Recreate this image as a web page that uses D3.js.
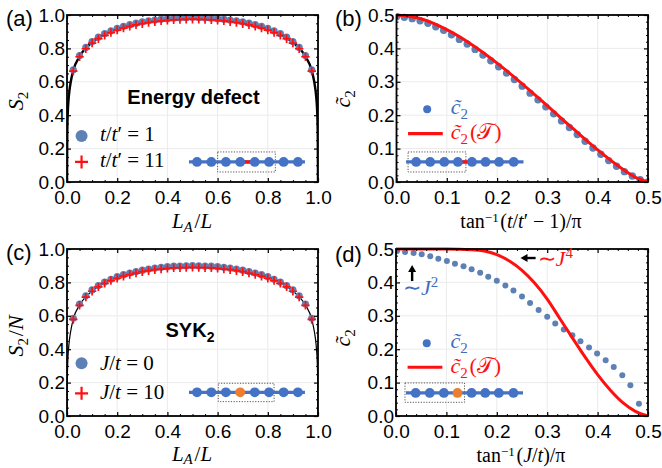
<!DOCTYPE html>
<html>
<head>
<meta charset="utf-8">
<script src="https://cdn.jsdelivr.net/npm/d3@7"></script>
<style>
body { margin: 0; background: #fff; }
svg text { font-family: "Liberation Sans", Arial, sans-serif; }
svg text.m { font-family: "Liberation Serif", "Times New Roman", serif; }
</style>
</head>
<body>
<svg id="fig" width="662" height="468"></svg>
<script>
// ---- data: panel (a), energy defect
const xA = [0.025,0.05,0.075,0.1,0.125,0.15,0.175,0.2,0.225,0.25,0.275,0.3,0.325,0.35,0.375,0.4,0.425,0.45,0.475,0.5,
            0.525,0.55,0.575,0.6,0.625,0.65,0.675,0.7,0.725,0.75,0.775,0.8,0.825,0.85,0.875,0.9,0.925,0.95,0.975];
const blueA = [0.672,0.757,0.806,0.841,0.867,0.888,0.905,0.920,0.932,0.942,0.951,0.959,0.965,0.970,0.975,0.978,0.981,0.983,0.984,0.985,
               0.984,0.983,0.981,0.978,0.975,0.970,0.965,0.959,0.951,0.942,0.932,0.920,0.905,0.888,0.867,0.841,0.806,0.757,0.672];
const redA = [0.664,0.750,0.798,0.832,0.858,0.878,0.895,0.910,0.922,0.932,0.941,0.948,0.955,0.960,0.965,0.968,0.971,0.973,0.974,0.975,
              0.974,0.973,0.971,0.968,0.965,0.960,0.955,0.948,0.941,0.932,0.922,0.910,0.895,0.878,0.858,0.832,0.798,0.750,0.664];
const curveX = [0,0.001,0.003,0.006,0.01,0.015,0.025,0.05,0.075,0.1,0.15,0.2,0.25,0.3,0.35,0.4,0.45,0.5,
                0.55,0.6,0.65,0.7,0.75,0.8,0.85,0.9,0.925,0.95,0.975,0.985,0.99,0.994,0.997,0.999,1];
const curveA = [0,0.28,0.41,0.49,0.55,0.60,0.668,0.752,0.802,0.836,0.883,0.915,0.937,0.952,0.963,0.971,0.976,0.978,
                0.976,0.971,0.963,0.952,0.937,0.915,0.883,0.836,0.802,0.752,0.668,0.60,0.55,0.49,0.41,0.28,0];

// ---- panel (b)
const xB = [0,0.0156,0.0313,0.0469,0.0625,0.0781,0.0938,0.1094,0.125,0.1406,0.1563,0.1719,0.1875,0.2031,0.2188,0.2344,0.25,
            0.2656,0.2813,0.2969,0.3125,0.3281,0.3438,0.3594,0.375,0.3906,0.4063,0.4219,0.4375,0.4531,0.4688,0.4844,0.5];
const blueB = [0.495,0.493,0.489,0.483,0.475,0.465,0.454,0.441,0.427,0.413,0.397,0.380,0.363,0.345,0.326,0.307,0.287,
               0.266,0.246,0.225,0.204,0.183,0.163,0.142,0.122,0.102,0.083,0.064,0.047,0.031,0.018,0.007,0.0];
const redBx = [0,0.05,0.1,0.15,0.2,0.25,0.3,0.35,0.4,0.45,0.475,0.5];
const redBy = [0.5,0.488,0.456,0.411,0.356,0.294,0.228,0.161,0.096,0.038,0.014,0.0];

// ---- panel (c), SYK2
const blueC = [0.585,0.670,0.720,0.755,0.781,0.802,0.819,0.834,0.846,0.856,0.865,0.873,0.880,0.886,0.890,0.894,0.897,0.898,0.899,0.900,
               0.899,0.898,0.897,0.894,0.890,0.886,0.880,0.873,0.865,0.856,0.846,0.834,0.819,0.802,0.781,0.755,0.720,0.670,0.585];
const redC = [0.578,0.663,0.712,0.747,0.773,0.794,0.811,0.825,0.837,0.847,0.856,0.864,0.870,0.876,0.880,0.884,0.887,0.888,0.889,0.890,
              0.889,0.888,0.887,0.884,0.880,0.876,0.870,0.864,0.856,0.847,0.837,0.825,0.811,0.794,0.773,0.747,0.712,0.663,0.578];
const curveC = [0,0.19,0.32,0.40,0.46,0.51,0.58,0.665,0.714,0.749,0.796,0.828,0.850,0.866,0.878,0.886,0.891,0.893,
                0.891,0.886,0.878,0.866,0.850,0.828,0.796,0.749,0.714,0.665,0.58,0.51,0.46,0.40,0.32,0.19,0];

// ---- panel (d)
const xD = [0.002,0.018,0.035,0.051,0.068,0.084,0.101,0.117,0.134,0.15,0.167,0.183,0.2,0.217,0.233,
            0.25,0.266,0.283,0.3,0.316,0.333,0.35,0.366,0.383,0.399,0.416,0.432,0.449,0.465,0.482];
const blueD = [0.494,0.491,0.488,0.484,0.478,0.471,0.464,0.456,0.448,0.439,0.429,0.417,0.405,0.391,0.376,
               0.358,0.338,0.317,0.297,0.277,0.259,0.242,0.224,0.205,0.187,0.167,0.147,0.122,0.092,0.037];
const redDx = [0,0.05,0.1,0.15,0.175,0.2,0.225,0.25,0.275,0.3,0.325,0.35,0.375,0.4,0.425,0.45,0.475,0.5];
const redDy = [0.5,0.5,0.5,0.498,0.494,0.483,0.464,0.436,0.398,0.35,0.292,0.234,0.177,0.124,0.078,0.040,0.014,0.0];

// ticks
const major1 = [0,0.2,0.4,0.6,0.8,1.0];
const minor1 = [0.05,0.1,0.15,0.25,0.3,0.35,0.45,0.5,0.55,0.65,0.7,0.75,0.85,0.9,0.95];
const major5 = [0,0.1,0.2,0.3,0.4,0.5];
const minor5 = [0.02,0.04,0.06,0.08,0.12,0.14,0.16,0.18,0.22,0.24,0.26,0.28,0.32,0.34,0.36,0.38,0.42,0.44,0.46,0.48];

// inset chain site positions
const chainLong = [0.518,0.575,0.633,0.69,0.748,0.805,0.863,0.92];
const chainShort = [0.039,0.067,0.095,0.122,0.150,0.177,0.204,0.233];

const BLUE = "#5e81b5", RED = "#ff1010", CHAIN = "#4472c4", ORANGE = "#ed7d31", TBLUE = "#3f6cbf";

const svg = d3.select("#fig");

function makePanel(box, dom, major, minor, id) {
    const x = d3.scaleLinear().domain(dom).range([box.l, box.r]);
    const y = d3.scaleLinear().domain(dom).range([box.b, box.t]);
    const g = svg.append("g");
    const inner = major.slice(1, -1);
    g.append("g").selectAll("line").data(inner).join("line")
        .attr("x1", d => x(d)).attr("x2", d => x(d))
        .attr("y1", box.t).attr("y2", box.b)
        .attr("stroke", "#ebebeb");
    g.append("g").selectAll("line").data(inner).join("line")
        .attr("y1", d => y(d)).attr("y2", d => y(d))
        .attr("x1", box.l).attr("x2", box.r)
        .attr("stroke", "#ebebeb");
    svg.append("clipPath").attr("id", id).append("rect")
        .attr("x", box.l).attr("y", box.t - 2)
        .attr("width", box.r - box.l).attr("height", box.b - box.t + 2);
    const plot = g.append("g").attr("clip-path", `url(#${id})`);
    return { box, g, plot, x, y, major, minor };
}

function drawFrame(p) {
    const { box, g, x, y, major, minor } = p;
    const fmt = d3.format(".1f");
    const sides = [
        [() => d3.axisBottom(x), `translate(0,${box.b})`, true],
        [() => d3.axisTop(x), `translate(0,${box.t})`, false],
        [() => d3.axisLeft(y), `translate(${box.l},0)`, true],
        [() => d3.axisRight(y), `translate(${box.r},0)`, false]
    ];
    sides.forEach(([mk, tr, labelled], i) => {
        g.append("g").attr("transform", tr)
            .call(mk().tickValues(minor).tickFormat("").tickSizeInner(-2).tickSizeOuter(0))
            .call(a => a.select(".domain").remove());
        g.append("g").attr("transform", tr)
            .call(mk().tickValues(major).tickFormat(labelled ? fmt : "")
                .tickSizeInner(-4).tickSizeOuter(0).tickPadding(i === 0 ? 9 : 2))
            .attr("font-size", 19).attr("font-family", "Liberation Sans, Arial, sans-serif")
            .call(a => a.select(".domain").remove())
            .call(a => a.selectAll("line").attr("stroke-width", 1.2));
    });
    g.append("rect")
        .attr("x", box.l).attr("y", box.t)
        .attr("width", box.r - box.l).attr("height", box.b - box.t)
        .attr("fill", "none").attr("stroke", "#000").attr("stroke-width", 1.8);
}

function dots(p, xs, ys, r, color) {
    p.plot.append("g").selectAll("circle").data(xs).join("circle")
        .attr("cx", d => p.x(d)).attr("cy", (d, i) => p.y(ys[i]))
        .attr("r", r).attr("fill", color);
}

function crosses(p, xs, ys, s) {
    p.plot.append("g").selectAll("path").data(xs).join("path")
        .attr("d", (d, i) => {
            const cx = p.x(d), cy = p.y(ys[i]);
            return `M${cx - s},${cy}H${cx + s}M${cx},${cy - s}V${cy + s}`;
        })
        .attr("stroke", RED).attr("stroke-width", 1.7).attr("fill", "none");
}

function curve(p, xs, ys, color, w) {
    const line = d3.line().x(d => p.x(d[0])).y(d => p.y(d[1])).curve(d3.curveMonotoneX);
    p.plot.append("path")
        .datum(xs.map((d, i) => [d, ys[i]]))
        .attr("d", line).attr("fill", "none")
        .attr("stroke", color).attr("stroke-width", w);
}

function chain(p, xs, yv, lineX, boxX, boxY, special) {
    const { g, x, y } = p;
    g.append("rect")
        .attr("x", x(boxX[0])).attr("y", y(boxY[1]))
        .attr("width", x(boxX[1]) - x(boxX[0])).attr("height", y(boxY[0]) - y(boxY[1]))
        .attr("fill", "none").attr("stroke", "#444").attr("stroke-width", 0.9)
        .attr("stroke-dasharray", "1.2,1.5");
    g.append("line")
        .attr("x1", x(lineX[0])).attr("x2", x(lineX[1]))
        .attr("y1", y(yv)).attr("y2", y(yv))
        .attr("stroke", CHAIN).attr("stroke-width", 3.2);
    if (special === "bond") {
        g.append("line")
            .attr("x1", x(xs[3])).attr("x2", x(xs[4]))
            .attr("y1", y(yv)).attr("y2", y(yv))
            .attr("stroke", RED).attr("stroke-width", 3.4);
    }
    g.append("g").selectAll("circle").data(xs).join("circle")
        .attr("cx", d => x(d)).attr("cy", y(yv)).attr("r", 4.9)
        .attr("fill", (d, i) => (special === "site" && i === 3) ? ORANGE : CHAIN);
}

function mtext(parent, x, y, html, size, opts = {}) {
    const t = parent.append("text").attr("class", "m")
        .attr("font-size", size).attr("fill", opts.fill || "#000")
        .attr("text-anchor", opts.anchor || "start")
        .html(html);
    if (opts.rotate) t.attr("transform", `translate(${x},${y}) rotate(-90)`);
    else t.attr("x", x).attr("y", y);
    return t;
}

const it = s => `<tspan font-style="italic">${s}</tspan>`;
const sub = (s, sz, dy) => `<tspan font-size="${sz}" dy="${dy}">${s}</tspan><tspan dy="${-dy}">\u200a</tspan>`;
const sup = (s, sz, dy) => `<tspan font-size="${sz}" dy="${-dy}">${s}</tspan><tspan dy="${dy}">\u200a</tspan>`;
const c2 = sz => it("c\u0303") + sub("2", sz, 5);

function panelLabel(x, y, s) {
    svg.append("text").attr("x", x).attr("y", y).attr("font-size", 22).text(s);
}

// ===== (a)
const pA = makePanel({ l: 67, r: 318, t: 15, b: 182 }, [0, 1], major1, minor1, "clipA");
curve(pA, curveX, curveA, "#000", 2.4);
dots(pA, xA, blueA, 3.6, BLUE);
crosses(pA, xA, redA, 4.2);
drawFrame(pA);
chain(pA, chainLong, 0.12, [0.486, 0.948], [0.6, 0.83], [0.06, 0.18], "bond");
pA.g.append("circle").attr("cx", pA.x(0.058)).attr("cy", pA.y(0.275)).attr("r", 6).attr("fill", BLUE);
pA.g.append("path")
    .attr("d", `M${pA.x(0.058) - 6.5},${pA.y(0.12)}h13M${pA.x(0.058)},${pA.y(0.12) - 6.5}v13`)
    .attr("stroke", RED).attr("stroke-width", 2.2);
mtext(pA.g, pA.x(0.131), 141, it("t") + "/" + it("t") + "\u2032 = 1", 21);
mtext(pA.g, pA.x(0.131), 167, it("t") + "/" + it("t") + "\u2032 = 11", 21);
pA.g.append("text").attr("x", 193.5).attr("y", 104).attr("text-anchor", "middle")
    .attr("font-size", 20).attr("font-weight", "bold").text("Energy defect");
mtext(svg, 23, 100, it("S") + sub("2", 15, 5), 22, { rotate: true, anchor: "middle" });
mtext(svg, 192, 228, it("L") + sub(it("A"), 15, 3.5) + "/" + it("L"), 21, { anchor: "middle" });
panelLabel(6, 26, "(a)");

// ===== (b)
const pB = makePanel({ l: 396.5, r: 648, t: 15, b: 182 }, [0, 0.5], major5, minor5, "clipB");
dots(pB, xB, blueB, 3.7, BLUE);
curve(pB, redBx, redBy, RED, 3);
drawFrame(pB);
chain(pB, chainShort, 0.06, [0.019, 0.2525], [0.023, 0.138], [0.03, 0.09], "bond");
pB.g.append("circle").attr("cx", pB.x(0.061)).attr("cy", pB.y(0.218)).attr("r", 4).attr("fill", CHAIN);
pB.g.append("line").attr("x1", pB.x(0.023)).attr("x2", pB.x(0.092))
    .attr("y1", pB.y(0.145)).attr("y2", pB.y(0.145)).attr("stroke", RED).attr("stroke-width", 3.2);
mtext(pB.g, pB.x(0.108), 114, c2(15), 22, { fill: TBLUE });
mtext(pB.g, pB.x(0.108), 139, c2(15) + "(\u{1D4AF})", 22, { fill: RED });
mtext(svg, 350, 98, c2(15), 22, { rotate: true, anchor: "middle" });
mtext(svg, 521, 228, "tan" + sup("\u22121", 13, 6.5) + "(" + it("t") + "/" + it("t") + "\u2032 \u2212 1)/\u03c0", 20, { anchor: "middle" });
panelLabel(335, 26, "(b)");

// ===== (c)
const pC = makePanel({ l: 67, r: 318, t: 249, b: 416 }, [0, 1], major1, minor1, "clipC");
curve(pC, curveX, curveC, "#000", 1.2);
dots(pC, xA, blueC, 3.6, BLUE);
crosses(pC, xA, redC, 4.2);
drawFrame(pC);
chain(pC, chainLong, 0.142, [0.486, 0.948], [0.603, 0.825], [0.086, 0.196], "site");
pC.g.append("circle").attr("cx", pC.x(0.058)).attr("cy", pC.y(0.316)).attr("r", 6).attr("fill", BLUE);
pC.g.append("path")
    .attr("d", `M${pC.x(0.058) - 6.5},${pC.y(0.136)}h13M${pC.x(0.058)},${pC.y(0.136) - 6.5}v13`)
    .attr("stroke", RED).attr("stroke-width", 2.2);
mtext(pC.g, pC.x(0.131), 370, it("J") + "/" + it("t") + " = 0", 21);
mtext(pC.g, pC.x(0.131), 399, it("J") + "/" + it("t") + " = 10", 21);
pC.g.append("text").attr("x", 165.5).attr("y", 337)
    .attr("font-size", 20).attr("font-weight", "bold")
    .html(`SYK<tspan font-size="14" dy="5">2</tspan>`);
mtext(svg, 23, 336, it("S") + sub("2", 15, 5) + "/" + it("N"), 22, { rotate: true, anchor: "middle" });
mtext(svg, 192, 461, it("L") + sub(it("A"), 15, 3) + "/" + it("L"), 21, { anchor: "middle" });
panelLabel(6, 260, "(c)");

// ===== (d)
const pD = makePanel({ l: 396, r: 648, t: 249, b: 416 }, [0, 0.5], major5, minor5, "clipD");
dots(pD, xD, blueD, 3, BLUE);
curve(pD, redDx, redDy, RED, 3);
drawFrame(pD);
chain(pD, chainShort, 0.069, [0.0198, 0.252], [0.0178, 0.136], [0.041, 0.099], "site");
pD.g.append("circle").attr("cx", pD.x(0.061)).attr("cy", pD.y(0.218)).attr("r", 4).attr("fill", CHAIN);
pD.g.append("line").attr("x1", pD.x(0.023)).attr("x2", pD.x(0.092))
    .attr("y1", pD.y(0.146)).attr("y2", pD.y(0.146)).attr("stroke", RED).attr("stroke-width", 3.2);
mtext(pD.g, pD.x(0.108), 348, c2(15), 22, { fill: TBLUE });
mtext(pD.g, pD.x(0.108), 373, c2(15) + "(\u{1D4AF})", 22, { fill: RED });
// arrows
const ax = pD.x(0.032), ayTip = pD.y(0.452), ayTail = pD.y(0.404);
pD.g.append("line").attr("x1", ax).attr("x2", ax).attr("y1", ayTail).attr("y2", ayTip + 5)
    .attr("stroke", "#000").attr("stroke-width", 2.4);
pD.g.append("path").attr("d", `M${ax},${ayTip}l-4,7h8z`).attr("fill", "#000");
const lxTip = pD.x(0.247), lxTail = pD.x(0.277), ly = pD.y(0.473);
pD.g.append("line").attr("x1", lxTail).attr("x2", lxTip + 5).attr("y1", ly).attr("y2", ly)
    .attr("stroke", "#000").attr("stroke-width", 2.4);
pD.g.append("path").attr("d", `M${lxTip},${ly}l7,-4v8z`).attr("fill", "#000");
mtext(pD.g, pD.x(0.014), 295, "\u223c" + it("J") + sup("2", 15, 8), 22, { fill: TBLUE });
mtext(pD.g, pD.x(0.281), 266, "\u223c" + it("J") + sup("4", 15, 8), 22, { fill: RED });
mtext(svg, 350, 337, c2(15), 22, { rotate: true, anchor: "middle" });
mtext(svg, 521, 462, "tan" + sup("\u22121", 13, 6.5) + "(" + it("J") + "/" + it("t") + ")/\u03c0", 20, { anchor: "middle" });
panelLabel(335, 262, "(d)");
</script>
</body>
</html>
